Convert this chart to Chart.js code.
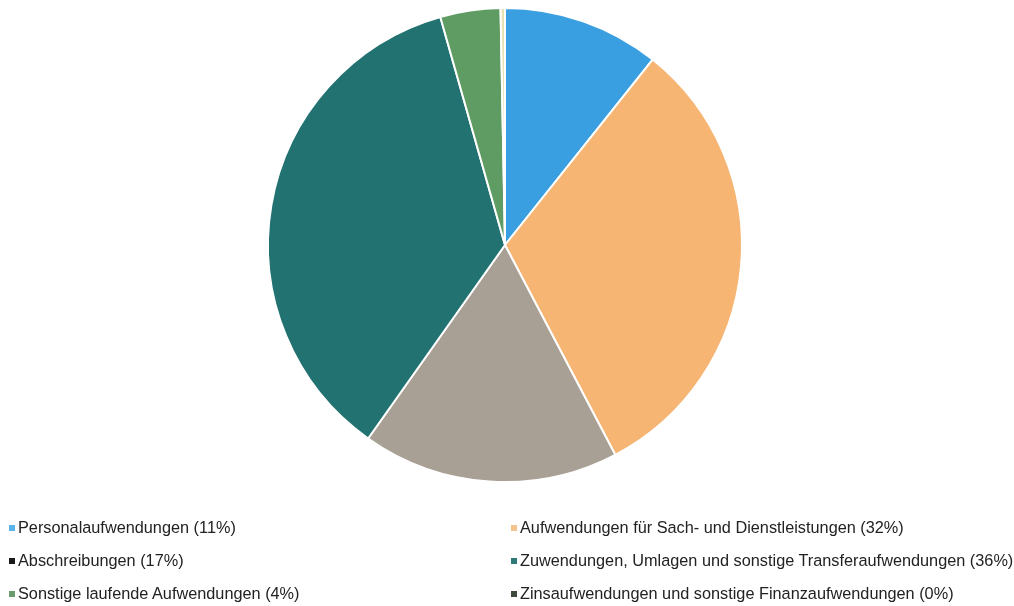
<!DOCTYPE html>
<html>
<head>
<meta charset="utf-8">
<script src="https://cdn.jsdelivr.net/npm/chart.js@4"></script>
<style>
  html, body { margin: 0; padding: 0; background: #fff; }
  #wrap { position: relative; width: 1014px; height: 606px; }
  #chartBox { position: absolute; left: 0; top: 0; width: 1014px; height: 490px; }
  #legend { position: absolute; left: 0; top: 0; width: 1014px; height: 606px; pointer-events: none;
    font-family: "Liberation Sans", Arial, sans-serif; font-size: 16.3px; color: #222; }
  .item { position: absolute; white-space: nowrap; line-height: 18px; }
  .box { display: inline-block; width: 6px; height: 6px; margin-right: 3px; vertical-align: 2px; }
</style>
</head>
<body>
<div id="wrap">
  <div id="chartBox"><canvas id="pie"></canvas></div>
  <div id="legend"></div>
</div>
<script>
const categories = [
  "Personalaufwendungen",
  "Aufwendungen für Sach- und Dienstleistungen",
  "Abschreibungen",
  "Zuwendungen, Umlagen und sonstige Transferaufwendungen",
  "Sonstige laufende Aufwendungen",
  "Zinsaufwendungen und sonstige Finanzaufwendungen",
]
const shares = [10.7, 31.6, 17.5, 35.8, 4.1, 0.3]
const shownPercent = ["11%", "32%", "17%", "36%", "4%", "0%"]
const sliceColors = ["#3a9fe0", "#f6b573", "#a89f95", "#237272", "#5f9c63", "#e6e2b4"]
const markerColors = ["#5bb4ea", "#f6c08e", "#1a1a1a", "#2f7a78", "#6a9a6e", "#3f4a3a"]

const chart = new Chart(document.getElementById("pie"), {
  type: "pie",
  data: {
    labels: categories,
    datasets: [{
      data: shares,
      backgroundColor: sliceColors,
      borderColor: "#ffffff",
      borderWidth: 2,
    }],
  },
  options: {
    responsive: true,
    maintainAspectRatio: false,
    animation: false,
    layout: { padding: { top: 7, bottom: 7, left: 0, right: 4 } },
    plugins: {
      legend: { display: false },
      tooltip: { enabled: false },
    },
  },
})

// legend in two columns, order: left/right per row
const legend = document.getElementById("legend")
const colX = [9, 511]
const rowY = [518, 551, 584]
categories.forEach((name, i) => {
  const div = document.createElement("div")
  div.className = "item"
  div.style.left = colX[i % 2] + "px"
  div.style.top = rowY[Math.floor(i / 2)] + "px"
  div.innerHTML = '<span class="box" style="background:' + markerColors[i] + '"></span>' +
    name + " (" + shownPercent[i] + ")"
  legend.appendChild(div)
})
</script>
</body>
</html>
